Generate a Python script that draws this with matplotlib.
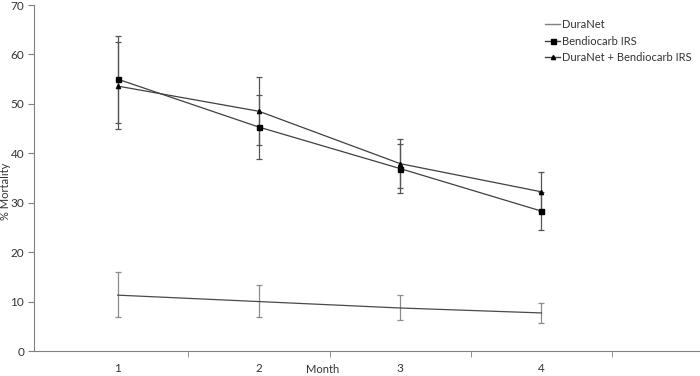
import numpy as np
import matplotlib.pyplot as plt
from matplotlib.lines import Line2D

plt.rcParams['font.family'] = ['Lato', 'DejaVu Sans']

months = [1, 2, 3, 4]
duranet = [11.3, 10.0, 8.7, 7.7]
duranet_lo = [6.8, 6.9, 6.2, 5.7]
duranet_hi = [15.9, 13.3, 11.3, 9.7]
bendio = [55.0, 45.3, 36.9, 28.3]
bendio_lo = [46.1, 38.9, 31.9, 24.4]
bendio_hi = [63.8, 51.7, 41.9, 32.2]
combo = [53.6, 48.5, 37.9, 32.2]
combo_lo = [45.0, 41.6, 32.9, 28.3]
combo_hi = [62.5, 55.5, 42.8, 36.2]
names = ['DuraNet', 'Bendiocarb IRS', 'DuraNet + Bendiocarb IRS']

fig = plt.figure(figsize=(7, 3.76), dpi=100)
ax = fig.add_axes([34 / 700, 25 / 376, 665 / 700, 346 / 376])

def err(v, lo, hi):
    v = np.array(v)
    return [v - np.array(lo), np.array(hi) - v]

ax.errorbar(months, duranet, yerr=err(duranet, duranet_lo, duranet_hi), color='#4a4a4a',
            ecolor='#8c8c8c', lw=0.9, elinewidth=0.9, capsize=2, capthick=0.9)
ax.errorbar(months, bendio, yerr=err(bendio, bendio_lo, bendio_hi), color='#404040',
            ecolor='#555555', lw=0.9, elinewidth=0.9, capsize=2, capthick=0.9,
            marker='s', ms=3.6, mfc='black', mec='black')
ax.errorbar(months, combo, yerr=err(combo, combo_lo, combo_hi), color='#404040',
            ecolor='#555555', lw=0.9, elinewidth=0.9, capsize=2, capthick=0.9,
            marker='^', ms=3, mfc='black', mec='black')

ax.set_xlim(0.408, 5.115)
ax.set_ylim(0, 70)
ax.set_yticks(np.arange(0, 71, 10))
ax.set_xticks(months)
ax.set_xticks([1.5, 2.5, 3.5, 4.5], minor=True)
ax.tick_params(axis='x', which='major', length=0, pad=9)
ax.tick_params(axis='x', which='minor', length=4, direction='out', color='#808080')
ax.tick_params(axis='y', length=4, direction='out', color='#808080', pad=3)
ax.tick_params(labelsize=8.5, labelcolor='#333333')

for s in ['top', 'right']:
    ax.spines[s].set_visible(False)
for s in ['left', 'bottom']:
    ax.spines[s].set_color('#808080')

ax.set_xlabel('Month', fontsize=8, color='#333333')
ax.xaxis.set_label_coords((323 - 34) / 665, (351 - 364) / 346)
ax.set_ylabel('% Mortality', fontsize=8, color='#333333')
ax.yaxis.set_label_coords((11 - 34) / 665, (351 - 191) / 346)

handles = [
    Line2D([], [], color='#808080', lw=1),
    Line2D([], [], color='#404040', lw=1, marker='s', ms=3.6, mfc='black', mec='black'),
    Line2D([], [], color='#404040', lw=1, marker='^', ms=3, mfc='black', mec='black'),
]
leg = ax.legend(handles, names, loc='upper left',
                bbox_to_anchor=((545 - 34) / 665, (351 - 19) / 346),
                frameon=False, fontsize=8, handlelength=1.35, handletextpad=0.2,
                labelspacing=0.5, borderaxespad=0, borderpad=0)
for t in leg.get_texts():
    t.set_color('#333333')

fig.savefig('out.png', dpi=100)
